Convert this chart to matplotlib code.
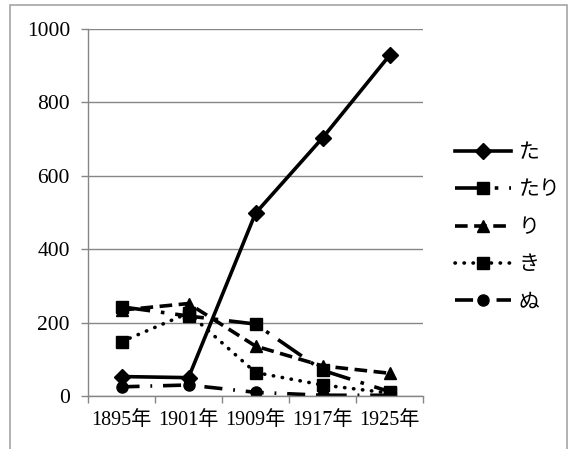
import matplotlib
matplotlib.use("Agg")
import matplotlib.pyplot as plt
from matplotlib.patches import Rectangle
from matplotlib.ticker import FixedLocator

plt.rcParams['font.family'] = ['Liberation Serif', 'Noto Sans CJK JP', 'DejaVu Sans']

years = ["1895年", "1901年", "1909年", "1917年", "1925年"]
ta = [53, 50, 498, 703, 928]
tari = [243, 218, 196, 70, 12]
ri = [234, 252, 136, 82, 62]
ki = [148, 226, 64, 30, 8]
nu = [25, 30, 10, 2, 2]

fig = plt.figure(figsize=(5.69, 4.49), dpi=100)
ax = fig.add_axes([88/569, 1 - 396/449, (423 - 88)/569, (396 - 29)/449])

# outer chart frame
fig.add_artist(Rectangle((10/569, -0.1), 557/569, 1.1 - 5/449, transform=fig.transFigure,
                         fill=False, edgecolor='#a6a6a6', lw=1.2))

x = list(range(len(years)))
lw = 2.6
ax.plot(x, ta, color='black', lw=lw, marker='D', ms=8, label='た')
ax.plot(x, tari, color='black', lw=lw, marker='s', ms=8, dashes=(8, 3, 1, 3), label='たり')
ax.plot(x, ri, color='black', lw=lw, marker='^', ms=9, dashes=(3.5, 1.8), label='り')
ax.plot(x, ki, color='black', lw=lw, marker='s', ms=8, linestyle=(0, (0.1, 2.4)),
        dash_capstyle='round', label='き')
ax.plot(x, nu, color='black', lw=lw, marker='o', ms=8, dashes=(5, 3, 0.5, 3), label='ぬ')

ax.set_xlim(-0.5, 4.5)
ax.set_ylim(0, 1000)
ax.set_yticks(range(0, 1001, 200))
ax.set_xticks(x)
ax.set_xticklabels(years)
ax.xaxis.set_minor_locator(FixedLocator([i - 0.5 for i in range(6)]))
ax.tick_params(axis='x', which='major', length=0, pad=11, labelsize=14.5)
ax.tick_params(axis='x', which='minor', length=5, color='#868686', width=1)
ax.tick_params(axis='y', length=5, color='#868686', width=1, pad=8, labelsize=15.5)

ax.grid(axis='y', color='#868686', lw=1)
ax.set_axisbelow(True)
for s in ['top', 'right']:
    ax.spines[s].set_visible(False)
for s in ['left', 'bottom']:
    ax.spines[s].set_color('#868686')
    ax.spines[s].set_linewidth(1)

fig.legend(loc='center left', bbox_to_anchor=(455/569, 1 - 228/449), frameon=False,
           borderpad=0, borderaxespad=0, handlelength=2.7, handletextpad=0.35,
           labelspacing=0.85, prop={'size': 15})

fig.savefig('out.png', dpi=100)
